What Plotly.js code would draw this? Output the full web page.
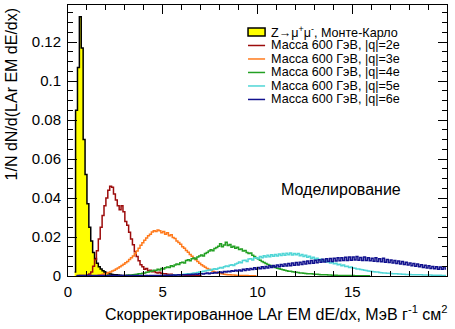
<!DOCTYPE html>
<html><head><meta charset="utf-8">
<script src="https://cdn.plot.ly/plotly-3.0.1.min.js"></script>
<style>html,body{margin:0;padding:0;background:#fff}#chart{width:455px;height:329px}</style>
</head><body><div id="chart"></div>
<script>
const binWidth = 0.1;

const seriesNames = [
  "Z\u2192\u03bc<sup>+</sup>\u03bc<sup>-</sup>, Монте-Карло",
  "Масса 600 ГэВ, |q|=2e",
  "Масса 600 ГэВ, |q|=3e",
  "Масса 600 ГэВ, |q|=4e",
  "Масса 600 ГэВ, |q|=5e",
  "Масса 600 ГэВ, |q|=6e"
];

// first bin centre of each series
const zStart = 0.35;
const zValues = [0.002,0.085,0.107,0.133,0.117,0.070,0.052,0.037,0.025,0.018,0.012,0.0090,0.0065,0.0048,0.0036,0.0027,0.0020,0.0015,0.0012,0.0010,0.0008,0.0007,0.0006,0.0005,0.0004,0.0003,0.0003,0.0002,0.0002,0.0001,0.0001,0];

const q2Start = 0.45;
const q2Values = [0.0001,0.0001,0.0002,0.0002,0.0003,0.0003,
  0.0005,0.001,0.002,0.005,0.0085,0.013,0.019,0.025,0.031,0.036,
  0.040,0.044,0.046,0.0455,0.042,0.039,0.036,0.034,0.036,0.033,
  0.028,0.026,0.0225,0.019,0.016,0.0125,0.010,0.0078,0.0058,0.0048,
  0.0035,0.0038,0.0027,0.0030,0.0022,0.0025,0.0018,0.0016,0.0019,0.0013,
  0.0011,0.0012,0.0009,0.0008,0.0009,0.0006,0.0007,0.0005,0.0005,0.0004,
  0.0003,0.0004,0.0002,0.0003,0.0002,0.0002,0.0001,0.0002,0.0001,0.0001,0];

const q3Start = 1.55;
const q3Values = [0.0003,0.0005,0.0007,0.0009,0.0011,
  0.0014,0.0018,0.0021,0.0026,0.0030,0.0036,0.0041,0.0047,0.0054,0.0060,
  0.0068,0.0075,0.0085,0.0094,0.0102,0.0115,0.0128,0.0142,0.0158,0.0170,
  0.0183,0.0195,0.0206,0.0214,0.0226,0.0232,0.0228,0.0236,0.0232,0.0222,
  0.0228,0.0214,0.0222,0.0206,0.0212,0.0198,0.0192,0.0180,0.0172,0.0163,
  0.0150,0.0142,0.0131,0.0122,0.0110,0.0101,0.0091,0.0083,0.0074,0.0066,
  0.0058,0.0051,0.0045,0.0039,0.0034,0.0029,0.0025,0.0021,0.0018,0.0015,
  0.0013,0.0011,0.0009,0.0008,0.0007,0.0006,0.0005,0.0005,0.0004,0.0003,
  0.0003,0.0003,0.0002,0.0002,0.0002,0.0001,0.0001,0.0001,0.0001,0];

const q4Start = 3.05;
const q4Values = [0.0003,0.0004,0.0005,0.0005,0.0007,0.0008,0.0009,0.0011,0.0012,0.0014,
  0.0016,0.0019,0.0021,0.0024,0.0026,0.0030,0.0028,0.0034,0.0031,0.0038,
  0.0036,0.0042,0.0046,0.0043,0.0052,0.0049,0.0056,0.0062,0.0059,0.0068,
  0.0071,0.0067,0.0079,0.0083,0.0078,0.0089,0.0092,0.0087,0.0098,0.0102,
  0.0108,0.0103,0.0116,0.0121,0.0128,0.0134,0.0129,0.0141,0.0146,0.0153,
  0.0166,0.0150,0.0159,0.0173,0.0156,0.0162,0.0148,0.0153,0.0142,0.0147,
  0.0136,0.0139,0.0128,0.0131,0.0121,0.0115,0.0118,0.0107,0.0100,0.0093,
  0.0087,0.0081,0.0075,0.0069,0.0064,0.0059,0.0055,0.0051,0.0047,0.0043,
  0.0040,0.0037,0.0034,0.0032,0.0030,0.0027,0.0025,0.0024,0.0022,0.0020,
  0.0019,0.0018,0.0016,0.0015,0.0014,0.0013,0.0012,0.0011,0.0011,0.0010,
  0.0009,0.0009,0.0008,0.0007,0.0007,0.0006,0.0006,0.0005,0.0005,0.0004,
  0.0004,0.0004,0.0003,0.0003,0.0003,0.0003,0.0002,0.0002,0.0002,0.0002,
  0.0002,0.0001,0.0001,0.0001,0.0001,0.0001,0.0001,0.0001,0.0001,0];

const q5Start = 5.05;
const q5Values = [0.0002,0.0002,0.0003,0.0003,0.0004,0.0004,0.0005,0.0006,0.0006,0.0007,
  0.0008,0.0009,0.0010,0.0011,0.0012,0.0013,0.0015,0.0016,0.0018,0.0020,
  0.0022,0.0024,0.0026,0.0028,0.0031,0.0029,0.0034,0.0037,0.0035,0.0040,
  0.0043,0.0041,0.0047,0.0051,0.0049,0.0055,0.0058,0.0054,0.0062,0.0066,
  0.0072,0.0068,0.0079,0.0081,0.0075,0.0087,0.0088,0.0082,0.0093,0.0094,
  0.0089,0.0100,0.0094,0.0104,0.0097,0.0106,0.0099,0.0109,0.0101,0.0110,
  0.0103,0.0113,0.0105,0.0115,0.0107,0.0117,0.0109,0.0118,0.0108,0.0116,
  0.0109,0.0115,0.0104,0.0110,0.0100,0.0106,0.0096,0.0101,0.0091,0.0096,
  0.0086,0.0091,0.0081,0.0086,0.0076,0.0081,0.0072,0.0076,0.0067,0.0070,
  0.0063,0.0066,0.0058,0.0060,0.0053,0.0056,0.0049,0.0050,0.0044,0.0046,
  0.0041,0.0040,0.0036,0.0036,0.0033,0.0032,0.0029,0.0028,0.0026,0.0025,
  0.0023,0.0022,0.0020,0.0020,0.0018,0.0017,0.0016,0.0015,0.0014,0.0014,
  0.0013,0.0012,0.0012,0.0011,0.0010,0.0010,0.0009,0.0009,0.0008,0.0008,
  0.0008,0.0007,0.0007,0.0007,0.0006,0.0006,0.0006,0.0005,0.0005,0.0005,
  0.0005,0.0005,0.0004,0.0004,0.0004,0.0004,0.0004,0.0003,0.0003,0.0003];

const q6Start = 0.45;
const q6Values = [0.0002,0.0003,0.0002,0.0003,0.0002,0.0003,0.0002,0.0002,0.0003,0.0002,
  0.0002,0.0003,0.0002,0.0002,0.0003,0.0002,0.0002,0.0003,0.0002,0.0002,
  0.0003,0.0002,0.0002,0.0003,0.0002,0.0002,0.0003,0.0002,0.0002,0.0003,
  0.0002,0.0002,0.0003,0.0002,0.0002,0.0002,
  0.0001,0.0002,0.0001,0.0002,0.0002,0.0002,0.0003,0.0002,0.0003,0.0003,
  0.0003,0.0004,0.0003,0.0004,0.0004,0.0005,0.0004,0.0005,0.0006,0.0005,
  0.0006,0.0007,0.0006,0.0008,0.0007,0.0009,0.0008,0.0010,0.0009,0.0011,
  0.0012,0.0010,0.0013,0.0015,0.0012,0.0016,0.0014,0.0018,0.0016,0.0019,
  0.0021,0.0017,0.0023,0.0020,0.0025,0.0022,0.0027,0.0024,0.0029,0.0026,
  0.0031,0.0026,0.0034,0.0028,0.0037,0.0031,0.0039,0.0033,0.0042,0.0035,
  0.0044,0.0037,0.0048,0.0039,0.0049,0.0041,0.0052,0.0043,0.0054,0.0046,
  0.0057,0.0047,0.0059,0.0050,0.0061,0.0051,0.0064,0.0053,0.0067,0.0055,
  0.0069,0.0057,0.0071,0.0059,0.0074,0.0062,0.0077,0.0064,0.0079,0.0066,
  0.0081,0.0068,0.0083,0.0070,0.0086,0.0072,0.0088,0.0074,0.0090,0.0075,
  0.0091,0.0077,0.0093,0.0078,0.0094,0.0079,0.0096,0.0080,0.0097,0.0081,
  0.0097,0.0082,0.0100,0.0081,0.0095,0.0079,0.0098,0.0080,0.0093,0.0078,
  0.0091,0.0076,0.0094,0.0075,0.0088,0.0073,0.0091,0.0071,0.0085,0.0069,
  0.0082,0.0067,0.0080,0.0064,0.0077,0.0062,0.0074,0.0059,0.0071,0.0056,
  0.0067,0.0053,0.0064,0.0050,0.0061,0.0047,0.0058,0.0044,0.0055,0.0041,
  0.0052,0.0039,0.0049,0.0037,0.0047,0.0035,0.0046,0.0034,0.0048,0.0036];

const seriesStarts = [zStart, q2Start, q3Start, q4Start, q5Start, q6Start];
const seriesValues = [zValues, q2Values, q3Values, q4Values, q5Values, q6Values];
const seriesColors = ["#000000", "#9c0c0c", "#ff7a1c", "#23a023", "#50d6d6", "#12128f"];

const xTitle = "Скорректированное LAr EM dE/dx, МэВ г<sup>-1</sup> см<sup>2</sup>";
const yTitle = "1/N dN/d(LAr EM dE/dx)";
const simLabel = "Моделирование";

function binCentres(start, n) {
  const a = [];
  for (let i = 0; i < n; i++) a.push(+(start + i * binWidth).toFixed(3));
  return a;
}

const font = "Liberation Sans, Arial, Helvetica, sans-serif";
const traces = seriesValues.map((vals, k) => {
  const t = {
    type: "scatter", mode: "lines",
    x: binCentres(seriesStarts[k], vals.length), y: vals,
    name: seriesNames[k], showlegend: false,
    line: {shape: "hvh", color: seriesColors[k], width: 1.5},
    hoverinfo: "skip"
  };
  if (k === 0) { t.fill = "tozeroy"; t.fillcolor = "#ffff00"; }
  return t;
});

// hand-placed legend (paper coordinates), rows like the ROOT legend
const legX0 = 0.475, legX1 = 0.52, legTextX = 0.530, legTopY = 0.9004, legStep = 0.0498;
const shapes = [];
const annotations = [];
seriesNames.forEach((name, k) => {
  const yc = legTopY - k * legStep;
  if (k === 0) {
    shapes.push({type: "rect", xref: "paper", yref: "paper", x0: legX0, x1: legX1,
                 y0: yc - 0.0148, y1: yc + 0.0148, fillcolor: "#ffff00",
                 line: {color: "#000", width: 1.5}});
  } else {
    shapes.push({type: "line", xref: "paper", yref: "paper", x0: legX0, x1: legX1,
                 y0: yc, y1: yc, line: {color: seriesColors[k], width: 1.5}});
  }
  annotations.push({text: name, xref: "paper", yref: "paper", x: legTextX, y: yc,
                    xanchor: "left", yanchor: "middle", showarrow: false,
                    font: {size: 12.6}});
});

annotations.push(
  {text: xTitle, xref: "paper", yref: "paper", x: 1.008, y: -0.137, xanchor: "right", yanchor: "middle",
   showarrow: false, font: {size: 16}},
  {text: yTitle, xref: "paper", yref: "paper", x: -0.148, y: 1.0, xanchor: "center", yanchor: "top",
   textangle: -90, showarrow: false, font: {size: 16}},
  {text: simLabel, xref: "paper", yref: "paper", x: 0.72, y: 0.321, xanchor: "center", yanchor: "middle",
   showarrow: false, font: {size: 16}}
);

const layout = {
  width: 455, height: 329,
  margin: {l: 68, r: 8, t: 5, b: 53},
  paper_bgcolor: "#fff", plot_bgcolor: "#fff",
  font: {family: font, color: "#000", size: 15},
  showlegend: false,
  xaxis: {range: [0, 20], showline: true, linecolor: "#000", linewidth: 1, mirror: "allticks",
          ticks: "inside", ticklen: 9, tickcolor: "#000", dtick: 5, tick0: 0,
          minor: {dtick: 1, ticklen: 5, ticks: "inside", tickcolor: "#000"},
          showgrid: false, zeroline: false, tickfont: {size: 15}, ticklabelstandoff: 2},
  yaxis: {range: [0, 0.139], showline: true, linecolor: "#000", linewidth: 1, mirror: "allticks",
          ticks: "inside", ticklen: 9, tickcolor: "#000", dtick: 0.02, tick0: 0,
          minor: {dtick: 0.005, ticklen: 5, ticks: "inside", tickcolor: "#000"},
          showgrid: false, zeroline: false, tickfont: {size: 15}, ticklabelstandoff: 3},
  shapes: shapes,
  annotations: annotations
};

Plotly.newPlot("chart", traces, layout, {staticPlot: true, displayModeBar: false});
</script></body></html>
